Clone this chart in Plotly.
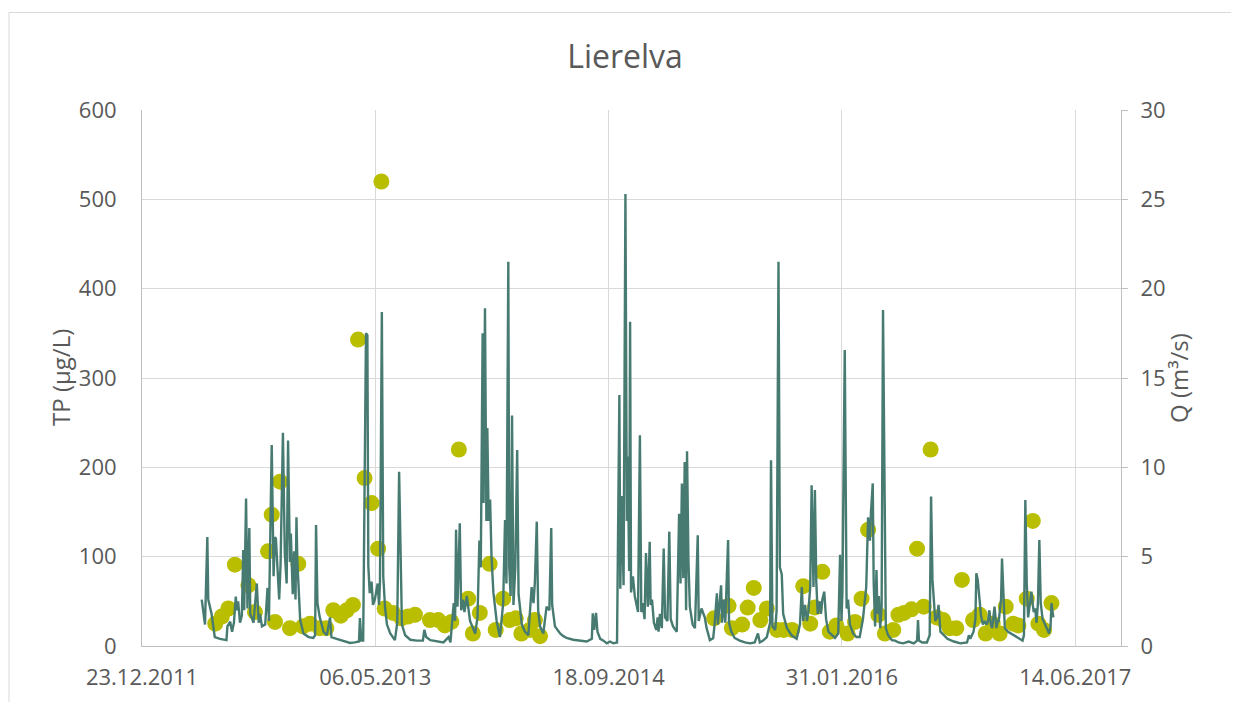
import plotly.graph_objects as go

# ---------------- data ----------------
q_dates = [
    "2012-04-29","2012-05-06","2012-05-11","2012-05-13","2012-05-20","2012-05-27","2012-06-07","2012-06-21","2012-06-23","2012-06-29",
    "2012-07-03","2012-07-07","2012-07-11","2012-07-13","2012-07-16","2012-07-20","2012-07-24","2012-07-27","2012-07-29","2012-08-02",
    "2012-08-05","2012-08-09","2012-08-11","2012-08-18","2012-08-25","2012-08-29","2012-09-01","2012-09-05","2012-09-12","2012-09-17",
    "2012-09-20","2012-09-26","2012-09-30","2012-10-03","2012-10-05","2012-10-09","2012-10-12","2012-10-15","2012-10-20","2012-10-24",
    "2012-10-28","2012-10-31","2012-11-04","2012-11-06","2012-11-10","2012-11-13","2012-11-16","2012-11-18","2012-11-20","2012-11-26",
    "2012-12-03","2012-12-14","2012-12-24","2012-12-28","2012-12-30","2013-01-02","2013-01-07","2013-01-15","2013-01-22","2013-01-29",
    "2013-02-01","2013-02-12","2013-02-26","2013-03-13","2013-03-23","2013-04-01","2013-04-03","2013-04-06","2013-04-10","2013-04-12",
    "2013-04-16","2013-04-19","2013-04-21","2013-04-24","2013-04-28","2013-05-01","2013-05-05","2013-05-11","2013-05-14","2013-05-16",
    "2013-05-20","2013-05-23","2013-05-27","2013-05-31","2013-06-07","2013-06-17","2013-06-22","2013-06-26","2013-06-30","2013-07-02",
    "2013-07-09","2013-07-20","2013-08-03","2013-08-16","2013-08-19","2013-08-23","2013-09-01","2013-09-15","2013-09-29","2013-10-10",
    "2013-10-14","2013-10-21","2013-10-24","2013-10-26","2013-10-29","2013-11-03","2013-11-06","2013-11-10","2013-11-13","2013-11-18",
    "2013-11-22","2013-11-25","2013-12-06","2013-12-11","2013-12-15","2013-12-18","2013-12-22","2013-12-24","2013-12-27","2013-12-30",
    "2014-01-01","2014-01-04","2014-01-07","2014-01-10","2014-01-14","2014-01-21","2014-01-28","2014-02-04","2014-02-08","2014-02-11",
    "2014-02-15","2014-02-17","2014-02-20","2014-02-23","2014-02-26","2014-03-02","2014-03-06","2014-03-09","2014-03-16","2014-03-23",
    "2014-03-30","2014-04-06","2014-04-10","2014-04-13","2014-04-17","2014-04-20","2014-04-24","2014-05-01","2014-05-08","2014-05-14",
    "2014-05-18","2014-05-20","2014-05-26","2014-06-06","2014-06-13","2014-06-20","2014-07-04","2014-07-19","2014-08-02","2014-08-13",
    "2014-08-15","2014-08-18","2014-08-22","2014-08-25","2014-08-31","2014-09-07","2014-09-14","2014-09-21","2014-09-28","2014-10-06",
    "2014-10-08","2014-10-11","2014-10-13","2014-10-16","2014-10-20","2014-10-24","2014-10-27","2014-10-29","2014-11-01","2014-11-03",
    "2014-11-05","2014-11-09","2014-11-13","2014-11-16","2014-11-20","2014-11-24","2014-11-27","2014-11-30","2014-12-04","2014-12-07",
    "2014-12-11","2014-12-15","2014-12-17","2014-12-20","2014-12-24","2014-12-29","2015-01-01","2015-01-03","2015-01-06","2015-01-10",
    "2015-01-14","2015-01-17","2015-01-22","2015-01-26","2015-01-29","2015-02-03","2015-02-11","2015-02-16","2015-02-19","2015-02-22",
    "2015-02-25","2015-02-28","2015-03-03","2015-03-05","2015-03-08","2015-03-11","2015-03-17","2015-03-22","2015-03-28","2015-03-30",
    "2015-04-05","2015-04-12","2015-04-16","2015-04-23","2015-04-30","2015-05-03","2015-05-08","2015-05-10","2015-05-14","2015-05-17",
    "2015-05-19","2015-05-22","2015-05-26","2015-06-01","2015-06-03","2015-06-08","2015-06-15","2015-06-26","2015-07-07","2015-07-18",
    "2015-07-28","2015-08-04","2015-08-08","2015-08-15","2015-08-23","2015-08-26","2015-08-30","2015-09-01","2015-09-04","2015-09-10",
    "2015-09-13","2015-09-17","2015-09-20","2015-09-24","2015-09-27","2015-10-05","2015-10-15","2015-10-26","2015-11-02","2015-11-06",
    "2015-11-09","2015-11-13","2015-11-17","2015-11-20","2015-11-24","2015-11-27","2015-12-01","2015-12-04","2015-12-07","2015-12-10",
    "2015-12-14","2015-12-17","2015-12-20","2015-12-24","2015-12-28","2016-01-02","2016-01-09","2016-01-16","2016-01-23","2016-01-27",
    "2016-01-30","2016-02-01","2016-02-06","2016-02-10","2016-02-13","2016-02-17","2016-02-24","2016-03-02","2016-03-09","2016-03-16",
    "2016-03-23","2016-03-27","2016-03-31","2016-04-02","2016-04-06","2016-04-08","2016-04-11","2016-04-14","2016-04-16","2016-04-19",
    "2016-04-22","2016-04-25","2016-04-28","2016-05-02","2016-05-04","2016-05-09","2016-05-17","2016-05-24","2016-05-31","2016-06-10",
    "2016-06-22","2016-07-03","2016-07-10","2016-07-12","2016-07-14","2016-07-21","2016-07-31","2016-08-06","2016-08-09","2016-08-12",
    "2016-08-15","2016-08-18","2016-08-22","2016-08-25","2016-08-29","2016-09-05","2016-09-13","2016-09-27","2016-10-11","2016-10-25",
    "2016-10-29","2016-11-01","2016-11-08","2016-11-12","2016-11-14","2016-11-17","2016-11-21","2016-11-24","2016-11-28","2016-12-02",
    "2016-12-06","2016-12-09","2016-12-12","2016-12-15","2016-12-18","2016-12-23","2016-12-27","2016-12-30","2017-01-01","2017-01-04",
    "2017-01-06","2017-01-08","2017-01-11","2017-01-14","2017-01-21","2017-02-01","2017-02-12","2017-02-21","2017-02-24","2017-02-27",
    "2017-03-02","2017-03-05","2017-03-09","2017-03-12","2017-03-15","2017-03-17","2017-03-20","2017-03-23","2017-03-26","2017-03-29",
    "2017-04-01","2017-04-05","2017-04-12","2017-04-19","2017-04-22","2017-04-24","2017-04-28",
]
q_values = [
    2.6, 1.2, 6.1, 2.6, 1.8, 0.5, 0.4, 0.33, 1.1, 1.36,
    0.8, 1.3, 2.76, 2.0, 2.5, 1.3, 1.7, 5.37, 2.0, 8.26,
    2.1, 6.6, 1.8, 1.3, 3.5, 1.3, 1.8, 1.1, 1.2, 3.25,
    1.4, 11.25, 3.9, 6.1, 6.0, 3.9, 2.6, 4.6, 11.94, 5.2,
    3.5, 11.5, 4.7, 6.3, 2.9, 5.3, 2.6, 7.2, 4.7, 1.45,
    0.7, 0.5, 0.45, 0.6, 6.77, 2.4, 1.6, 0.8, 0.6, 1.6,
    0.5, 0.4, 0.3, 0.17, 0.2, 0.25, 1.57, 0.3, 0.3, 5.9,
    17.5, 17.4, 4.5, 2.96, 3.6, 2.3, 2.6, 3.5, 2.3, 3.6,
    18.7, 3.9, 2.1, 1.2, 0.7, 0.33, 1.3, 9.75, 3.2, 1.2,
    0.6, 0.35, 0.3, 0.3, 0.9, 0.5, 0.33, 0.25, 0.2, 0.5,
    0.2, 2.4, 1.4, 6.5, 2.2, 6.87, 2.0, 2.6, 1.9, 2.8,
    1.8, 1.4, 0.7, 1.6, 5.9, 4.4, 17.5, 8.0, 18.9, 7.0,
    12.2, 7.0, 8.2, 5.0, 3.0, 1.4, 0.5, 2.4, 7.05, 3.5,
    21.5, 4.4, 2.8, 12.9, 2.3, 4.4, 10.97, 2.9, 1.2, 0.8,
    0.6, 3.3, 2.4, 3.6, 6.96, 2.0, 1.1, 0.7, 2.2, 2.0,
    6.6, 2.3, 1.1, 0.7, 0.55, 0.45, 0.35, 0.3, 0.25, 0.4,
    1.83, 0.9, 1.85, 0.8, 0.4, 0.3, 0.15, 0.25, 0.15, 0.2,
    8.0, 14.05, 3.2, 8.4, 3.4, 25.3, 7.0, 10.6, 4.2, 18.15,
    3.0, 3.9, 2.8, 2.4, 1.9, 11.8, 1.9, 2.4, 1.5, 5.2,
    2.2, 5.84, 2.3, 2.6, 1.3, 0.9, 1.6, 0.8, 1.8, 1.0,
    5.46, 1.6, 1.4, 6.4, 1.5, 1.1, 0.8, 7.4, 3.5, 9.1,
    3.8, 10.3, 2.0, 10.9, 4.8, 2.2, 1.2, 1.0, 6.2, 1.4,
    2.1, 1.6, 1.0, 0.33, 0.43, 1.2, 2.95, 1.2, 2.7, 3.4,
    1.3, 2.6, 1.3, 5.93, 1.3, 0.8, 0.45, 0.3, 0.2, 0.15,
    0.2, 0.7, 0.2, 0.3, 0.5, 0.9, 1.3, 10.4, 1.1, 0.9,
    2.0, 21.5, 4.4, 4.0, 1.8, 1.0, 0.6, 0.4, 1.2, 3.3,
    1.4, 2.3, 1.4, 1.9, 3.3, 9.0, 3.3, 8.73, 3.6, 1.8,
    2.5, 1.8, 2.6, 3.04, 1.5, 0.8, 0.6, 0.45, 0.7, 5.1,
    1.4, 3.0, 16.56, 2.1, 2.6, 1.2, 0.7, 0.5, 0.5, 1.5,
    3.3, 7.2, 5.9, 7.4, 9.1, 3.6, 1.1, 4.25, 1.8, 2.8,
    1.0, 2.2, 18.8, 2.8, 1.0, 0.6, 0.33, 0.3, 0.2, 0.15,
    0.25, 0.15, 0.3, 1.45, 0.3, 0.2, 0.2, 0.6, 8.36, 3.7,
    2.6, 1.4, 1.6, 2.3, 0.8, 0.6, 0.4, 0.25, 0.15, 0.2,
    0.6, 0.4, 0.8, 1.5, 4.07, 3.7, 2.6, 1.7, 1.2, 1.4,
    1.2, 1.4, 2.0, 1.2, 1.0, 2.2, 1.0, 1.4, 1.4, 2.0,
    2.6, 4.9, 2.3, 1.0, 0.8, 0.6, 0.45, 0.3, 0.6, 8.17,
    3.5, 1.6, 2.3, 3.04, 2.3, 1.9, 2.1, 1.3, 2.4, 5.93,
    2.4, 1.5, 1.1, 0.7, 1.1, 2.4, 1.6,
]

tp_dates = [
    "2012-05-28","2012-06-11","2012-06-25","2012-07-09","2012-08-07","2012-08-21","2012-09-18","2012-09-26","2012-10-03","2012-10-14",
    "2012-11-04","2012-11-22","2012-12-02","2012-12-17","2013-01-07","2013-01-21","2013-02-05","2013-02-21","2013-03-06","2013-03-19",
    "2013-03-30","2013-04-13","2013-04-28","2013-05-12","2013-05-19","2013-05-26","2013-06-13","2013-07-01","2013-07-15","2013-07-30",
    "2013-08-31","2013-09-18","2013-10-02","2013-10-16","2013-11-01","2013-11-21","2013-12-01","2013-12-16","2014-01-06","2014-01-19",
    "2014-02-04","2014-02-18","2014-03-03","2014-03-15","2014-04-02","2014-04-13","2014-04-24",
    "2015-05-02","2015-06-02","2015-06-09","2015-07-01","2015-07-13","2015-07-26","2015-08-09","2015-08-23","2015-09-14","2015-09-28",
    "2015-10-16","2015-11-09","2015-11-24","2015-12-04","2015-12-20","2016-01-05","2016-01-19","2016-02-12","2016-02-28","2016-03-13",
    "2016-03-27","2016-04-18","2016-05-02","2016-05-20","2016-05-31","2016-06-12","2016-06-28","2016-07-10","2016-07-24","2016-08-08",
    "2016-08-21","2016-09-04","2016-09-18","2016-10-02","2016-10-14","2016-11-07","2016-11-21","2016-12-04","2016-12-19","2017-01-03",
    "2017-01-16","2017-02-01","2017-02-12","2017-03-02","2017-03-15","2017-03-27","2017-04-08","2017-04-24",
]
tp_values = [
    25, 33, 42, 91, 68, 38, 106, 147, 27, 184,
    20, 92, 22, 25, 20, 20, 40, 34, 40, 46,
    343, 188, 160, 109, 520, 42, 37, 31, 33, 35,
    29, 29, 23, 27, 220, 53, 14, 37, 92, 18,
    53, 29, 31, 14, 18, 29, 11,
    31, 45, 20, 24, 43, 65, 29, 42, 18, 18,
    18, 67, 25, 43, 83, 16, 23, 14, 27, 53,
    130, 35, 14, 18, 35, 37, 41, 109, 44, 220,
    32, 29, 20, 20, 74, 29, 35, 14, 25, 14,
    44, 25, 23, 53, 140, 25, 18, 48,
]

x_tick_dates = ["2011-12-23", "2013-05-06", "2014-09-18", "2016-01-31", "2017-06-14"]
x_tick_labels = ["23.12.2011", "06.05.2013", "18.09.2014", "31.01.2016", "14.06.2017"]
x_range = ["2011-12-23", "2017-09-20"]

TEXT = "#595959"
GRID = "#D9D9D9"
AXIS = "#BFBFBF"
FONT = "Open Sans"

# page body has an 8px margin; figure is sized so plot area lands where the reference has it
W, H = 1231, 694
OFF = 8
PL, PR, PT, PB = 142, 1121, 110, 646          # plot-area edges in page pixels
PW, PH = PR - PL, PB - PT

fig = go.Figure()
fig.add_trace(go.Scatter(
    x=tp_dates, y=tp_values, mode="markers", name="TP",
    marker=dict(color="#B9BE00", size=16, line=dict(width=0)),
    yaxis="y",
))
fig.add_trace(go.Scatter(
    x=q_dates, y=q_values, mode="lines", name="Q",
    line=dict(color="#477B72", width=2.4),
    yaxis="y2",
))

fig.update_layout(
    width=W, height=H,
    paper_bgcolor="white", plot_bgcolor="white",
    showlegend=False,
    margin=dict(l=PL - OFF, r=W + OFF - PR, t=PT - OFF, b=H + OFF - PB, pad=0),
    font=dict(family=FONT, color=TEXT, size=22),
    title=dict(text="Lierelva", x=(625 - PL) / PW, xanchor="center", xref="paper",
               y=1 - (57 - OFF) / H, yanchor="middle",
               font=dict(family=FONT, size=32, color=TEXT)),
    xaxis=dict(
        type="date", range=x_range,
        tickvals=x_tick_dates, ticktext=x_tick_labels,
        showgrid=True, gridcolor=GRID, gridwidth=1,
        showline=True, linecolor=AXIS, linewidth=1,
        ticks="", ticklabelstandoff=12,
        tickfont=dict(family=FONT, size=22, color=TEXT),
        zeroline=False,
    ),
    yaxis=dict(
        range=[0, 600], dtick=100, tick0=0,
        showgrid=True, gridcolor=GRID, gridwidth=1,
        showline=True, linecolor=AXIS, linewidth=1,
        ticks="", ticklabelstandoff=20,
        tickfont=dict(family=FONT, size=22, color=TEXT),
        zeroline=False,
    ),
    yaxis2=dict(
        range=[0, 30], dtick=5, tick0=0,
        overlaying="y", side="right",
        showgrid=False, showline=True, linecolor=AXIS, linewidth=1,
        ticks="outside", ticklen=6, tickcolor=AXIS, tickwidth=1,
        ticklabelstandoff=8,
        tickfont=dict(family=FONT, size=22, color=TEXT),
        zeroline=False,
    ),
    annotations=[
        dict(text="TP (µg/L)", xref="paper", yref="paper",
             x=(60 - PL) / PW, y=0.5, textangle=-90, showarrow=False,
             xanchor="center", yanchor="middle",
             font=dict(family=FONT, size=24, color=TEXT)),
        dict(text="Q (m³/s)", xref="paper", yref="paper",
             x=(1178 - PL) / PW, y=0.5, textangle=-90, showarrow=False,
             xanchor="center", yanchor="middle",
             font=dict(family=FONT, size=24, color=TEXT)),
    ],
    shapes=[
        dict(type="rect", xref="paper", yref="paper",
             x0=(9 - PL) / PW, x1=1.3, y0=-0.3, y1=(PB - 12.5) / PH,
             line=dict(color=GRID, width=1), fillcolor="rgba(0,0,0,0)", layer="below"),
    ],
)

fig.write_html("out.html")
